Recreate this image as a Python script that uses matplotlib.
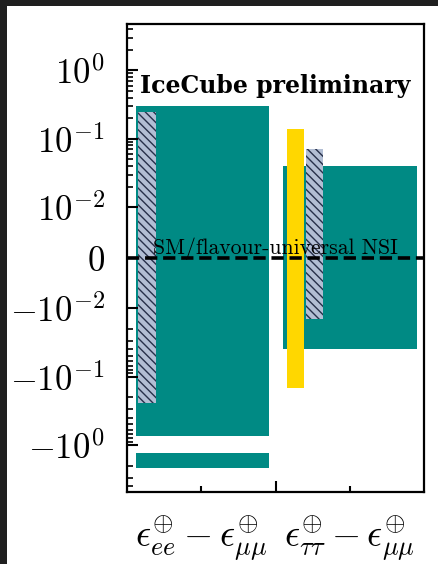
import numpy as np
import matplotlib
matplotlib.use("Agg")
import matplotlib.pyplot as plt
from matplotlib.patches import Rectangle
from matplotlib.ticker import FixedLocator, SymmetricalLogLocator, NullFormatter

plt.rcParams['mathtext.fontset'] = 'cm'
plt.rcParams['hatch.linewidth'] = 1.0

# Symlog axis settings
LINTHRESH = 0.01
LINSCALE = 0.663

# Allowed ranges (lower, upper) per parameter, with horizontal extent in x-units
teal_ranges = [(-0.73, 0.30), (-2.17, -1.29), (-0.040, 0.040)]
teal_x = [(0.06, 0.955), (0.06, 0.955), (1.053, 1.953)]
hatch_ranges = [(-0.244, 0.244), (-0.0145, 0.070)]
hatch_x = [(0.074, 0.192), (1.203, 1.322)]
yellow_ranges = [(-0.147, 0.141)]
yellow_x = [(1.075, 1.19)]

ytick_vals = [-1, -0.1, -0.01, 0, 0.01, 0.1, 1]
ytick_labels = [r'$-10^{0}$', r'$-10^{-1}$', r'$-10^{-2}$', r'$0$',
                r'$10^{-2}$', r'$10^{-1}$', r'$10^{0}$']
xcat_pos = [0.5, 1.5]
xcat_labels = [r'$\epsilon^{\oplus}_{ee}-\epsilon^{\oplus}_{\mu\mu}$',
               r'$\epsilon^{\oplus}_{\tau\tau}-\epsilon^{\oplus}_{\mu\mu}$']

TEAL = '#008a84'
YELLOW = '#ffd700'
HATCH_FILL = '#b2bed4'
HATCH_EDGE = '#27304a'

fig = plt.figure(figsize=(4.38, 5.64), dpi=100, facecolor='#1f1f1f')
# white page area
fig.patches.append(Rectangle((7 / 438, 0), 1, 1 - 6 / 564, transform=fig.transFigure,
                             facecolor='white', edgecolor='none', zorder=-10))

ax = fig.add_axes([127 / 438, 1 - 491.7 / 564, (424 - 127) / 438, (491.7 - 24) / 564])
ax.set_yscale('symlog', linthresh=LINTHRESH, linscale=LINSCALE)
ax.set_ylim(-4.8, 4.75)
ax.set_xlim(0, 2)

for (lo, hi), (x0, x1) in zip(teal_ranges, teal_x):
    ax.fill_between([x0, x1], [lo, lo], [hi, hi], color=TEAL, lw=0, zorder=1)
for (lo, hi), (x0, x1) in zip(yellow_ranges, yellow_x):
    ax.fill_between([x0, x1], [lo, lo], [hi, hi], color=YELLOW, lw=0, zorder=2)
for (lo, hi), (x0, x1) in zip(hatch_ranges, hatch_x):
    ax.fill_between([x0, x1], [lo, lo], [hi, hi], facecolor=HATCH_FILL,
                    edgecolor=HATCH_EDGE, hatch=r'\\\\', lw=0, zorder=3)

ax.axhline(0, color='black', lw=2.6, ls=(0, (3.4, 1.6)), zorder=4)

ax.annotate('SM/flavour-universal NSI', xy=(1.0, 0), xytext=(0, 3),
            textcoords='offset points', ha='center', va='baseline',
            fontsize=15.6, family='cmr10', zorder=5)
ax.text(0.044, 0.852, 'IceCube preliminary', transform=ax.transAxes,
        ha='left', va='baseline', fontsize=17, family='DejaVu Serif',
        fontweight='bold')

# y ticks
ax.yaxis.set_major_locator(FixedLocator(ytick_vals))
ax.set_yticklabels(ytick_labels)
ax.yaxis.set_minor_locator(SymmetricalLogLocator(linthresh=LINTHRESH, base=10,
                                                 subs=np.arange(2, 10)))
ax.yaxis.set_minor_formatter(NullFormatter())
ax.tick_params(axis='y', which='major', direction='in', length=8, width=1.5,
               labelsize=25, pad=16)
ax.tick_params(axis='y', which='minor', direction='in', length=4.5, width=1.2)

# x ticks: separator at 1, category labels at minor positions
ax.xaxis.set_major_locator(FixedLocator([1.0]))
ax.xaxis.set_major_formatter(NullFormatter())
ax.xaxis.set_minor_locator(FixedLocator(xcat_pos))
ax.set_xticklabels(xcat_labels, minor=True)
ax.tick_params(axis='x', which='major', direction='in', length=8, width=1.5)
ax.tick_params(axis='x', which='minor', direction='in', length=4, width=1.5,
               labelsize=27, pad=16)

for s in ax.spines.values():
    s.set_linewidth(1.6)

fig.savefig('out.png', dpi=100, facecolor=fig.get_facecolor())
